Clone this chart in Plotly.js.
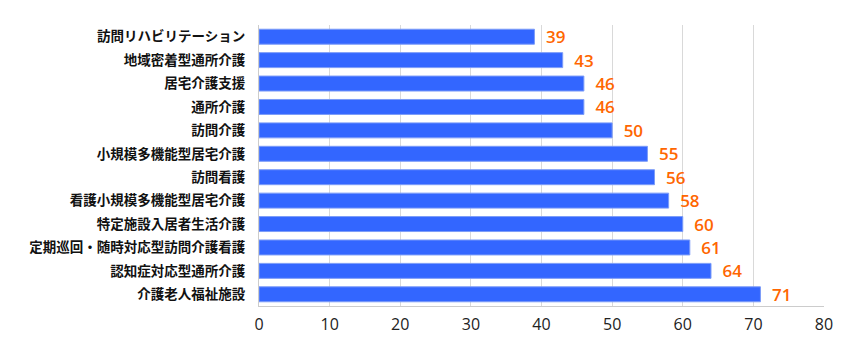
<!DOCTYPE html>
<html><head><meta charset="utf-8">
<script src="https://cdn.plot.ly/plotly-3.0.1.min.js"></script>
<style>body{margin:0;background:#fff}#c{width:860px;height:359px}</style>
</head><body><div id="c"></div>
<script>
const categories = ["訪問リハビリテーション","地域密着型通所介護","居宅介護支援","通所介護","訪問介護","小規模多機能型居宅介護","訪問看護","看護小規模多機能型居宅介護","特定施設入居者生活介護","定期巡回・随時対応型訪問介護看護","認知症対応型通所介護","介護老人福祉施設"];
const values = [39,43,46,46,50,55,56,58,60,61,64,71];
const xTicks = [0,10,20,30,40,50,60,70,80];

Plotly.newPlot('c', [{
  type:'bar', orientation:'h', y:categories, x:values,
  marker:{color:'#3366ff', line:{color:'#7c9cf8', width:1}},
  texttemplate:'\u2002%{x}', textposition:'outside', cliponaxis:false, constraintext:'none',
  textfont:{color:'#ff6600', size:17, family:'"Open Sans", sans-serif', weight:600},
  hoverinfo:'none'
}], {
  width:860, height:359,
  margin:{l:259, r:36, t:25, b:53},
  paper_bgcolor:'#fff', plot_bgcolor:'#fff',
  bargap:0.36,
  showlegend:false,
  xaxis:{range:[0,80], tickvals:xTicks, ticktext:xTicks.map(String), showgrid:true, gridcolor:'#d9d9d9', gridwidth:1,
    zeroline:false, showline:true, linecolor:'#cccccc', linewidth:1, mirror:false, ticks:'', ticklen:0, ticklabelstandoff:4,
    tickfont:{size:16, color:'#222', family:'"Open Sans", sans-serif'}},
  yaxis:{autorange:'reversed', type:'category', showgrid:false, zeroline:false, showline:true, linecolor:'#cccccc', linewidth:1,
    ticks:'', ticklabelstandoff:10,
    tickfont:{size:13.5, color:'#111', family:'"Noto Sans CJK JP", sans-serif', weight:600}}
}, {staticPlot:true});
</script></body></html>
